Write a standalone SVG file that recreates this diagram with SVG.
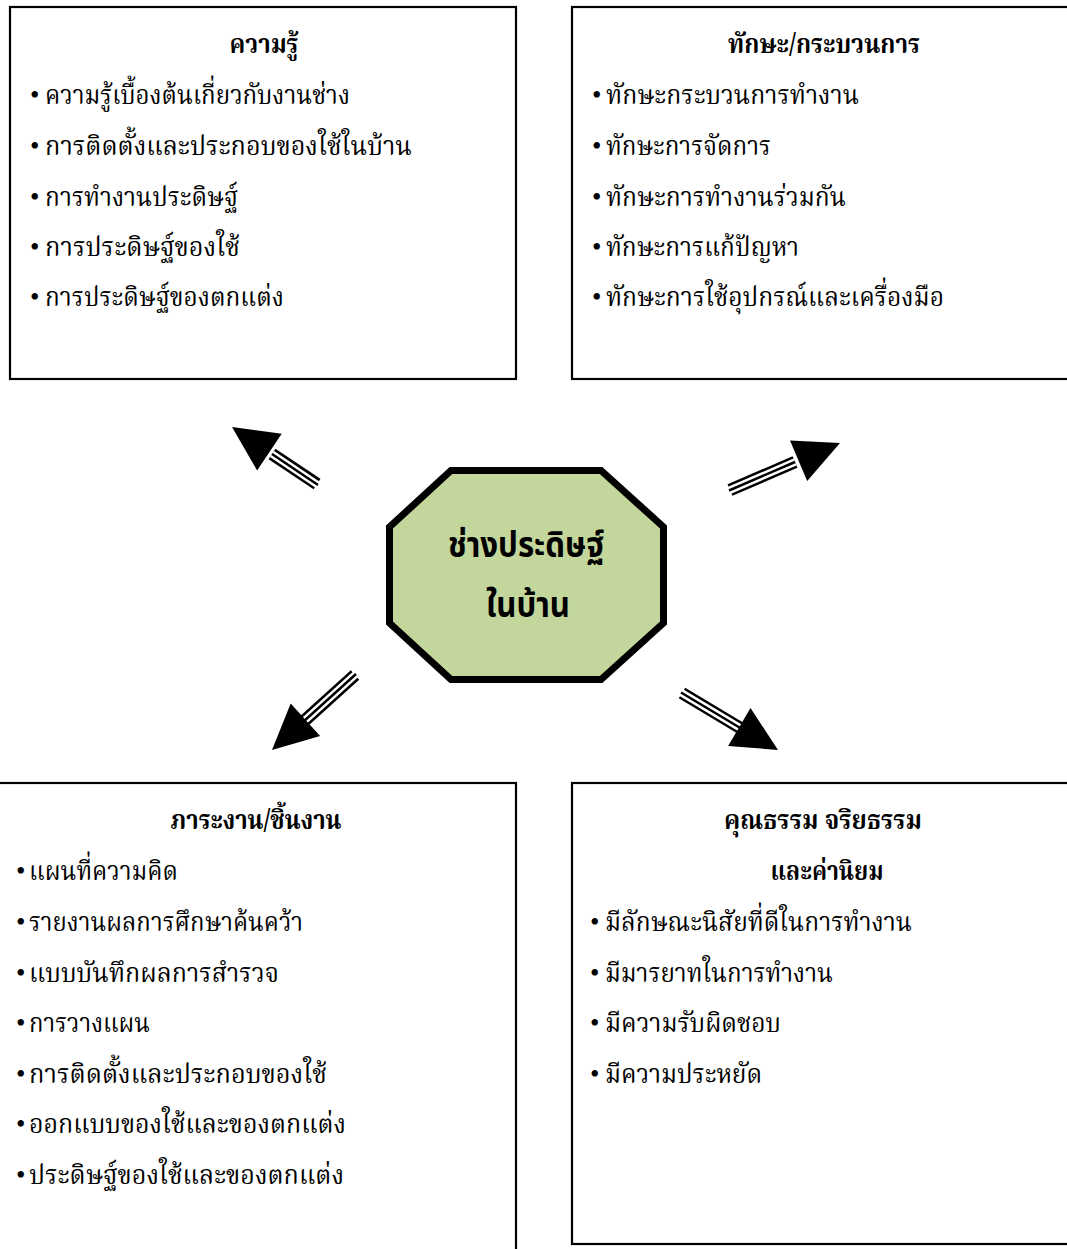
<svg xmlns="http://www.w3.org/2000/svg" width="1067" height="1249" viewBox="0 0 1067 1249">
<style>
.box{fill:#fff;stroke:#000;stroke-width:2.2}
.t{font-family:"Noto Serif Thai","Noto Sans Thai","Liberation Serif",serif;font-size:27px;fill:#000}
.h{font-weight:bold}
.b{font-family:"Liberation Serif",serif;font-size:27px;fill:#000}
.c{font-family:"Noto Sans Thai","Noto Sans","DejaVu Sans",sans-serif;font-size:35px;font-weight:bold;fill:#000}
.s1{stroke:#000;stroke-width:12.5;fill:none}
.s2{stroke:#fff;stroke-width:7.5;fill:none}
.s3{stroke:#000;stroke-width:2.5;fill:none}
.hd{fill:#000}
</style>
<rect width="1067" height="1249" fill="#fff"/>

<g id="node-knowledge">
<rect class="box" x="10" y="7" width="506" height="372"/>
<text class="t h" x="264" y="53" text-anchor="middle" textLength="69" lengthAdjust="spacingAndGlyphs">ความรู้</text>
<text class="b" x="30" y="104">•</text><text class="t" x="45" y="104" textLength="305" lengthAdjust="spacingAndGlyphs">ความรู้เบื้องต้นเกี่ยวกับงานช่าง</text>
<text class="b" x="30" y="155">•</text><text class="t" x="45" y="155" textLength="367" lengthAdjust="spacingAndGlyphs">การติดตั้งและประกอบของใช้ในบ้าน</text>
<text class="b" x="30" y="206">•</text><text class="t" x="45" y="206" textLength="193" lengthAdjust="spacingAndGlyphs">การทำงานประดิษฐ์</text>
<text class="b" x="30" y="256">•</text><text class="t" x="45" y="256" textLength="195" lengthAdjust="spacingAndGlyphs">การประดิษฐ์ของใช้</text>
<text class="b" x="30" y="306">•</text><text class="t" x="45" y="306" textLength="239" lengthAdjust="spacingAndGlyphs">การประดิษฐ์ของตกแต่ง</text>
</g>

<g id="node-skills">
<rect class="box" x="572" y="7" width="510" height="372"/>
<text class="t h" x="824" y="53" text-anchor="middle" textLength="192" lengthAdjust="spacingAndGlyphs">ทักษะ/กระบวนการ</text>
<text class="b" x="592" y="104">•</text><text class="t" x="606" y="104" textLength="253" lengthAdjust="spacingAndGlyphs">ทักษะกระบวนการทำงาน</text>
<text class="b" x="592" y="155">•</text><text class="t" x="606" y="155" textLength="165" lengthAdjust="spacingAndGlyphs">ทักษะการจัดการ</text>
<text class="b" x="592" y="206">•</text><text class="t" x="606" y="206" textLength="240" lengthAdjust="spacingAndGlyphs">ทักษะการทำงานร่วมกัน</text>
<text class="b" x="592" y="256">•</text><text class="t" x="606" y="256" textLength="193" lengthAdjust="spacingAndGlyphs">ทักษะการแก้ปัญหา</text>
<text class="b" x="592" y="306">•</text><text class="t" x="606" y="306" textLength="338" lengthAdjust="spacingAndGlyphs">ทักษะการใช้อุปกรณ์และเครื่องมือ</text>
</g>

<g id="node-workpieces">
<rect class="box" x="-10" y="783" width="526" height="480"/>
<text class="t h" x="256" y="829" text-anchor="middle" textLength="171" lengthAdjust="spacingAndGlyphs">ภาระงาน/ชิ้นงาน</text>
<text class="b" x="16" y="880">•</text><text class="t" x="29" y="880" textLength="149" lengthAdjust="spacingAndGlyphs">แผนที่ความคิด</text>
<text class="b" x="16" y="931">•</text><text class="t" x="29" y="931" textLength="274" lengthAdjust="spacingAndGlyphs">รายงานผลการศึกษาค้นคว้า</text>
<text class="b" x="16" y="982">•</text><text class="t" x="29" y="982" textLength="250" lengthAdjust="spacingAndGlyphs">แบบบันทึกผลการสำรวจ</text>
<text class="b" x="16" y="1032">•</text><text class="t" x="29" y="1032" textLength="121" lengthAdjust="spacingAndGlyphs">การวางแผน</text>
<text class="b" x="16" y="1083">•</text><text class="t" x="29" y="1083" textLength="298" lengthAdjust="spacingAndGlyphs">การติดตั้งและประกอบของใช้</text>
<text class="b" x="16" y="1133">•</text><text class="t" x="29" y="1133" textLength="317" lengthAdjust="spacingAndGlyphs">ออกแบบของใช้และของตกแต่ง</text>
<text class="b" x="16" y="1184">•</text><text class="t" x="29" y="1184" textLength="315" lengthAdjust="spacingAndGlyphs">ประดิษฐ์ของใช้และของตกแต่ง</text>
</g>

<g id="node-values">
<rect class="box" x="572" y="783" width="510" height="461"/>
<text class="t h" x="823" y="829" text-anchor="middle" textLength="198" lengthAdjust="spacingAndGlyphs">คุณธรรม จริยธรรม</text>
<text class="t h" x="827" y="880" text-anchor="middle" textLength="113" lengthAdjust="spacingAndGlyphs">และค่านิยม</text>
<text class="b" x="590" y="931">•</text><text class="t" x="605" y="931" textLength="307" lengthAdjust="spacingAndGlyphs">มีลักษณะนิสัยที่ดีในการทำงาน</text>
<text class="b" x="590" y="982">•</text><text class="t" x="605" y="982" textLength="228" lengthAdjust="spacingAndGlyphs">มีมารยาทในการทำงาน</text>
<text class="b" x="590" y="1032">•</text><text class="t" x="605" y="1032" textLength="176" lengthAdjust="spacingAndGlyphs">มีความรับผิดชอบ</text>
<text class="b" x="590" y="1083">•</text><text class="t" x="605" y="1083" textLength="157" lengthAdjust="spacingAndGlyphs">มีความประหยัด</text>
</g>

<g id="node-center">
<polygon points="451,470.5 601,470.5 663.5,527 663.5,623 601,679.5 451,679.5 389.5,623 389.5,527" fill="#c3d69b" stroke="#000" stroke-width="7" stroke-linejoin="miter"/>
<text class="c" x="526" y="557" text-anchor="middle" textLength="156" lengthAdjust="spacingAndGlyphs">ช่างประดิษฐ์</text>
<text class="c" x="528" y="617" text-anchor="middle" textLength="84" lengthAdjust="spacingAndGlyphs">ในบ้าน</text>
</g>

<g id="connectors">
<g id="arrow-tl">
<line class="s1" x1="317" y1="484" x2="272" y2="454"/>
<line class="s2" x1="318" y1="485" x2="272" y2="454"/>
<line class="s3" x1="318" y1="485" x2="272" y2="454"/>
<polygon class="hd" points="232,427 281.7,433.8 257.1,470.4"/>
</g>
<g id="arrow-tr">
<line class="s1" x1="730" y1="490" x2="795" y2="462"/>
<line class="s2" x1="729" y1="490.5" x2="795" y2="462"/>
<line class="s3" x1="729" y1="490.5" x2="795" y2="462"/>
<polygon class="hd" points="840,443 807.2,480.9 790,440.5"/>
</g>
<g id="arrow-bl">
<line class="s1" x1="355" y1="675" x2="303" y2="722"/>
<line class="s2" x1="356" y1="674" x2="303" y2="722"/>
<line class="s3" x1="356" y1="674" x2="303" y2="722"/>
<polygon class="hd" points="272,750 290.7,703.5 320.1,736.1"/>
</g>
<g id="arrow-br">
<line class="s1" x1="682" y1="693" x2="742" y2="729"/>
<line class="s2" x1="681" y1="692.5" x2="742" y2="729"/>
<line class="s3" x1="681" y1="692.5" x2="742" y2="729"/>
<polygon class="hd" points="778,750 728.1,745.9 750.5,708.1"/>
</g>
</g>
</svg>
